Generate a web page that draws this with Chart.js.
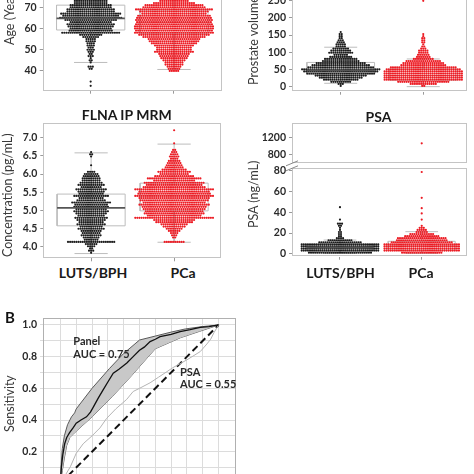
<!DOCTYPE html>
<html>
<head>
<meta charset="utf-8">
<title>FLNA panel figure</title>
<script src="https://cdn.jsdelivr.net/npm/chart.js@4.4.1/dist/chart.umd.min.js"></script>
<style>
  html, body { margin: 0; padding: 0; background: #fff; }
  body { position: relative; width: 474px; height: 474px; overflow: hidden; font-family: Lato, "Liberation Sans", sans-serif; }
  canvas { position: absolute; }
  .lbl { position: absolute; white-space: nowrap; line-height: 1; color: #1a1a1a; font-weight: bold; }
  .vlab { position: absolute; white-space: nowrap; line-height: 1; color: #3a3a3a; font-size: 12.5px;
          transform-origin: 0 0; transform: rotate(-90deg) translateY(-50%); }
</style>
</head>
<body>
<script>
// ---------------- data ----------------
const categories = ["LUTS/BPH", "PCa"];

// Age (years) - one swarm row per year
const ageBins = [33,34,35,36,37,38,39,40,41,42,43,44,45,46,47,48,49,50,51,52,53,54,55,56,57,58,59,60,61,62,63,64,65,66,67,68,69,70,71,72,73,74,75,76,77,78,79,80,81,82];
const ageLuts = [1,0,1,0,0,0,0,0,2,3, 0,1,2,1,3,2,3,4,3,4, 4,5,5,8,11,28,21,20,22,23, 20,25,30,27,29,23,23,20,20,16, 16,14,12,10,8,6,4,3,2,1];
const agePca  = [0,0,0,0,0,0,0, 5,6,7,9,9,11,13,14,15,19, 17,17,19,22,24,25,30,34,38,37, 38,38,37,36,37,36,35,31,33,37, 30,28,20,14,10,8,6,4,3,2, 1,0,0];
const ageTicks = [40, 50, 60, 70, 80, 90, 100];
const ageQ1 = [59.3, 57.7], ageMedian = [64.8, 63], ageQ3 = [71, 68.7], ageLow = [44, 40.7], ageHigh = [86, 84];

// Prostate volume (mL)
const volBins = [3,9,15,21,27,33,39,45,51,57,63,69,75,81,87,93,99,105,111,117,123,129,135,141,147,153,159,249];
const volLuts = [1,3,10,17,21,25,33,36,38,32,28,24,18,16,11,7,12,10,8,5,5,4,3,2,2,2,1,0];
const volPca  = [2,13,25,38,38,38,38,38,36,32,22,20,17,10,7,6,5,5,3,2,1,2,2,2,1,1,0,1];
const volTicks = [0, 50, 100, 150, 200, 250, 300, 350];
const volQ1 = [36, 20], volMedian = [48, 33], volQ3 = [71, 52], volLow = [10.7, 1], volHigh = [115, 81];

// FLNA IP MRM concentration (pg/mL)
const flnaBins = [3.84,3.90,3.96,4.02,4.08,4.14,4.20,4.26,4.32,4.38,4.44,4.50,4.56,4.62,4.68,4.74,4.80,4.86,4.92,4.98,5.04,5.10,5.16,5.22,5.28,5.34,5.40,5.46,5.52,5.58,5.64,5.70,5.76,5.82,5.88,5.94,6.00,6.06,6.12,6.18,6.24,6.30,6.36,6.42,6.48,6.54,6.60,6.66,6.72,6.78,6.84,6.90,6.96,7.02,7.08,7.14,7.20];
const flnaLuts = [1,3,2,4,6,23,7,8,10,9, 10,13,11,14,12,14,16,13,15,17, 15,17,16,19,14,12,17,12,13,15, 10,13,11,9,9,8,7,4,0,0, 1,0,0,0,1,2,1,0,0,0, 0,0,0,0,0,0,0];
const flnaPca  = [0,0,0,0,0,10,0,2,3,4, 6,8,11,13,18,20,38,26,29,28, 30,31,34,30,33,34,38,35,34,38, 30,27,29,20,26,19,14,16,12,9, 8,7,6,4,5,4,3,2,0,0, 1,0,0,0,0,0,1];
const flnaTicks = [4.0, 4.5, 5.0, 5.5, 6.0, 6.5, 7.0];
const flnaQ1 = [4.58, 4.99], flnaMedian = [5.07, 5.4], flnaQ3 = [5.45, 5.75], flnaLow = [3.82, 4.13], flnaHigh = [6.58, 6.82];

// PSA (ng/mL)
const psaBins = [1,3,5,7,9,11,13,15,17,19,21,23,25,27,29,33,39,44,45,54,79,1071];
const psaLuts = [31,38,38,38,38,21,12,4,2,2,2,1,1,2,3,1,0,0,1,0,0,0];
const psaPca  = [20,37,37,37,37,30,25,24,17,12,6,5,3,1,0,1,1,1,0,1,1,1];
const psaHighTicks = [800, 1200];
const psaLowTicks = [0, 20, 40, 60, 80];
const psaQ1 = [3.5, 3.5], psaMedian = [6, 7.5], psaQ3 = [9, 12], psaLow = [0.3, 0.3], psaHigh = [13.2, 21.3];

// ROC (1 - specificity vs sensitivity)
const rocPanelFpr = [0,0.006,0.015,0.027,0.04,0.058,0.08,0.1,0.13,0.165,0.19,0.207,0.24,0.27,0.3,0.334,0.37,0.42,0.46,0.5,0.53,0.567,0.6,0.63,0.7,0.757,0.82,0.884,0.94,1];
const rocPanelTpr = [0,0.1,0.18,0.25,0.29,0.32,0.35,0.38,0.4,0.42,0.45,0.48,0.54,0.59,0.64,0.695,0.72,0.76,0.8,0.84,0.86,0.895,0.91,0.926,0.94,0.958,0.97,0.985,0.99,1];
const rocUpperFpr = [0,0.005,0.012,0.025,0.045,0.07,0.09,0.1,0.2,0.31,0.4,0.5,0.6,0.7,0.79,0.9,1];
const rocUpperTpr = [0,0.12,0.22,0.3,0.37,0.42,0.445,0.47,0.6,0.725,0.82,0.905,0.93,0.955,0.975,0.99,1];
const rocLowerFpr = [0,0.012,0.025,0.04,0.06,0.09,0.2,0.33,0.45,0.52,0.6,0.76,0.88,1];
const rocLowerTpr = [0,0.08,0.16,0.24,0.29,0.32,0.42,0.55,0.68,0.76,0.85,0.92,0.96,1];
const rocPsaFpr = [0,0.03,0.063,0.1,0.144,0.2,0.25,0.292,0.35,0.419,0.46,0.5,0.567,0.62,0.673,0.71,0.8,0.884,0.926,0.95,0.97,1];
const rocPsaTpr = [0,0.05,0.105,0.19,0.25,0.3,0.35,0.41,0.47,0.53,0.58,0.6,0.635,0.67,0.705,0.73,0.78,0.832,0.88,0.91,0.95,1];
const rocChanceFpr = [0, 1];
const rocChanceTpr = [0, 1];
const rocGridTicks = [0,0.1,0.2,0.3,0.4,0.5,0.6,0.7,0.8,0.9,1.0];
const rocLabelTicks = [0.2, 0.4, 0.6, 0.8, 1.0];

// ---------------- style ----------------
const FONT = "Lato, 'Liberation Sans', sans-serif";
const BLACK = "#1c1c1c", RED = "#ec1c24";
const BOX_COLOR = "#bdbdbd", MED_COLOR = "#555555";
const DOT_DX = 0.0253, DOT_R = 1.1;
const BOX_HALF = 0.41, CAP_HALF = 0.2;

Chart.defaults.font.family = FONT;
Chart.defaults.animation = false;
Chart.defaults.events = [];
Chart.defaults.plugins.legend.display = false;
Chart.defaults.plugins.tooltip.enabled = false;

// frame round the plot area + axis break marks
const framePlugin = {
    id: "frame",
    beforeDatasetsDraw(chart, args, opts) {
        const a = chart.chartArea, ctx = chart.ctx;
        ctx.save();
        ctx.strokeStyle = opts.color || "#bfbfbf";
        ctx.lineWidth = 1;
        ctx.strokeRect(Math.round(a.left) + 0.5, Math.round(a.top) + 0.5,
            Math.round(a.right - a.left) - 1, Math.round(a.bottom - a.top) - 1);
        ctx.restore();
    },
    afterDraw(chart, args, opts) {
        if (!opts.breakAt) return;
        const a = chart.chartArea, ctx = chart.ctx;
        const y = opts.breakAt === "bottom" ? a.bottom : a.top;
        ctx.save();
        ctx.strokeStyle = "#8a8a8a";
        ctx.lineWidth = 1;
        ctx.beginPath();
        ctx.moveTo(a.left - 6, y + 2.5);
        ctx.lineTo(a.left + 6, y - 2.5);
        ctx.stroke();
        ctx.restore();
    }
};
Chart.register(framePlugin);

function makeCanvas(box) {
    const c = document.createElement("canvas");
    c.width = box.w;
    c.height = box.h;
    c.style.left = box.x + "px";
    c.style.top = box.y + "px";
    c.style.width = box.w + "px";
    c.style.height = box.h + "px";
    document.body.appendChild(c);
    return c;
}

function swarmPoints(bins, counts, center) {
    const pts = [];
    bins.forEach((v, i) => {
        const n = counts[i];
        for (let j = 0; j < n; j++) {
            pts.push({ x: center + (j - (n - 1) / 2) * DOT_DX, y: v });
        }
    });
    return pts;
}

function seg(points, color, width, order) {
    return {
        data: points.map(p => ({ x: p[0], y: p[1] })),
        showLine: true, pointRadius: 0, borderColor: color, borderWidth: width,
        fill: false, order: order
    };
}

function boxSets(q1, med, q3, lo, hi) {
    const sets = [];
    [1, 2].forEach((c, g) => {
        const w = BOX_HALF, k = CAP_HALF;
        sets.push(seg([[c - w, q1[g]], [c + w, q1[g]], [c + w, q3[g]], [c - w, q3[g]], [c - w, q1[g]]], BOX_COLOR, 1, 3));
        sets.push(seg([[c, q3[g]], [c, hi[g]]], BOX_COLOR, 1, 3));
        sets.push(seg([[c, q1[g]], [c, lo[g]]], BOX_COLOR, 1, 3));
        sets.push(seg([[c - k, hi[g]], [c + k, hi[g]]], BOX_COLOR, 1, 3));
        sets.push(seg([[c - k, lo[g]], [c + k, lo[g]]], BOX_COLOR, 1, 3));
        // LUTS median sits on top of its swarm, PCa median is hidden under it
        sets.push(seg([[c - w, med[g]], [c + w, med[g]]], g === 0 ? MED_COLOR : BOX_COLOR, g === 0 ? 1.8 : 1, g === 0 ? 0 : 3));
    });
    return sets;
}

function tickFont() {
    return { family: FONT, weight: "bold", size: 10.5 };
}

function scaleSet(box, plot, xr, yr) {
    return {
        x: {
            type: "linear", min: xr.min, max: xr.max,
            afterBuildTicks: s => { s.ticks = xr.ticks.map(v => ({ value: v })); },
            afterFit: s => { s.height = box.y + box.h - plot.b; s.paddingLeft = 0; s.paddingRight = 0; },
            ticks: { display: false, autoSkip: false },
            grid: xr.grid,
            border: { display: false }
        },
        y: {
            type: "linear", min: yr.min, max: yr.max,
            afterBuildTicks: s => { s.ticks = yr.ticks.map(v => ({ value: v })); },
            afterFit: s => { s.width = plot.l - box.x; s.paddingTop = 0; s.paddingBottom = 0; },
            ticks: { font: tickFont(), color: "#2a2a2a", padding: 3, autoSkip: false, callback: yr.fmt },
            grid: yr.grid,
            border: { display: false }
        }
    };
}

function swarmChart(o) {
    const canvas = makeCanvas(o.box);
    const datasets = [
        { data: swarmPoints(o.bins, o.luts, 1), pointRadius: DOT_R, pointBorderWidth: 0, pointBackgroundColor: BLACK, order: 1 },
        { data: swarmPoints(o.bins, o.pca, 2), pointRadius: DOT_R, pointBorderWidth: 0, pointBackgroundColor: RED, order: 1 }
    ].concat(o.box2 ? boxSets(o.q1, o.med, o.q3, o.lo, o.hi) : []);
    const tickGrid = { drawOnChartArea: false, tickLength: 3, color: "#9a9a9a", drawTicks: true };
    return new Chart(canvas, {
        type: "scatter",
        data: { datasets: datasets },
        options: {
            responsive: false,
            devicePixelRatio: 1,
            layout: { autoPadding: false, padding: { left: 0, bottom: 0, top: o.plot.t - o.box.y, right: o.box.x + o.box.w - o.plot.r } },
            scales: scaleSet(o.box, o.plot,
                { min: o.xMin, max: o.xMax, ticks: o.xTicks ? [1, 2] : [], grid: tickGrid },
                { min: o.yMin, max: o.yMax, ticks: o.yTicks, fmt: o.fmt, grid: tickGrid }),
            plugins: { frame: { color: "#c4c4c4", breakAt: o.breakAt } }
        }
    });
}

const intFmt = v => String(v);

// Age
swarmChart({
    box: { x: 0, y: -80, w: 230, h: 175 }, plot: { l: 42.7, r: 221.7, t: -70, b: 90.7 },
    xMin: 0.424, xMax: 2.573, xTicks: true, yMin: 30.7, yMax: 106.4, yTicks: ageTicks, fmt: intFmt,
    bins: ageBins, luts: ageLuts, pca: agePca, box2: true,
    q1: ageQ1, med: ageMedian, q3: ageQ3, lo: ageLow, hi: ageHigh
});

// Prostate volume
swarmChart({
    box: { x: 245, y: -60, w: 229, h: 155 }, plot: { l: 292, r: 467, t: -45.7, b: 91.7 },
    xMin: 0.41, xMax: 2.53, xTicks: true, yMin: -13.6, yMax: 383.5, yTicks: volTicks, fmt: intFmt,
    bins: volBins, luts: volLuts, pca: volPca, box2: true,
    q1: volQ1, med: volMedian, q3: volQ3, lo: volLow, hi: volHigh
});

// FLNA IP MRM
swarmChart({
    box: { x: 0, y: 118, w: 230, h: 145 }, plot: { l: 43.3, r: 221.7, t: 123.3, b: 258.3 },
    xMin: 0.424, xMax: 2.573, xTicks: true, yMin: 3.69, yMax: 7.39, yTicks: flnaTicks, fmt: v => v.toFixed(1),
    bins: flnaBins, luts: flnaLuts, pca: flnaPca, box2: true,
    q1: flnaQ1, med: flnaMedian, q3: flnaQ3, lo: flnaLow, hi: flnaHigh
});

// PSA - upper (broken) part
swarmChart({
    box: { x: 245, y: 118, w: 229, h: 50 }, plot: { l: 292, r: 467, t: 123.3, b: 163.3 },
    xMin: 0.413, xMax: 2.554, xTicks: false, yMin: 608, yMax: 1533, yTicks: psaHighTicks, fmt: intFmt,
    bins: psaBins, luts: psaLuts, pca: psaPca, box2: false, breakAt: "bottom"
});

// PSA - lower part
swarmChart({
    box: { x: 245, y: 163, w: 229, h: 100 }, plot: { l: 292, r: 467, t: 168.3, b: 256.7 },
    xMin: 0.413, xMax: 2.554, xTicks: true, yMin: -2.9, yMax: 82.6, yTicks: psaLowTicks, fmt: intFmt,
    bins: psaBins, luts: psaLuts, pca: psaPca, box2: true,
    q1: psaQ1, med: psaMedian, q3: psaQ3, lo: psaLow, hi: psaHigh, breakAt: "top"
});

// ROC
(function () {
    const box = { x: 0, y: 310, w: 245, h: 200 }, plot = { l: 43, r: 236, t: 318, b: 500 };
    const pts = (xs, ys) => xs.map((x, i) => ({ x: x, y: ys[i] }));
    const base = { pointRadius: 0, tension: 0, fill: false };
    const canvas = makeCanvas(box);
    new Chart(canvas, {
        type: "line",
        data: {
            datasets: [
                Object.assign({}, base, { data: pts(rocUpperFpr, rocUpperTpr), borderColor: "#5a5a5a", borderWidth: 1, fill: "+1", backgroundColor: "#c8c8c8", order: 3 }),
                Object.assign({}, base, { data: pts(rocLowerFpr, rocLowerTpr), borderColor: "#5a5a5a", borderWidth: 1, order: 3 }),
                Object.assign({}, base, { data: pts(rocChanceFpr, rocChanceTpr), borderColor: "#111", borderWidth: 2, borderDash: [7, 4], order: 2 }),
                Object.assign({}, base, { data: pts(rocPsaFpr, rocPsaTpr), borderColor: "#b4b4b4", borderWidth: 1, order: 1 }),
                Object.assign({}, base, { data: pts(rocPanelFpr, rocPanelTpr), borderColor: "#111", borderWidth: 1.3, order: 0 })
            ]
        },
        options: {
            responsive: false,
            devicePixelRatio: 1,
            layout: { autoPadding: false, padding: { left: 0, bottom: 0, top: plot.t - box.y, right: box.x + box.w - plot.r } },
            scales: scaleSet(box, plot,
                { min: -0.11, max: 1.11, ticks: rocGridTicks, grid: { color: "#dcdcdc", drawTicks: false } },
                { min: -0.105, max: 1.044, ticks: rocGridTicks,
                  fmt: v => rocLabelTicks.some(t => Math.abs(t - v) < 1e-6) ? v.toFixed(1) : "",
                  grid: { color: "#dcdcdc", tickLength: 3 } }),
            plugins: { frame: { color: "#b0b0b0" } }
        }
    });
})();

// ---------------- text ----------------
function text(str, x, capTop, size, center, color) {
    const d = document.createElement("div");
    d.className = "lbl";
    d.textContent = str;
    d.style.fontSize = size + "px";
    d.style.left = x + "px";
    d.style.top = (capTop - 0.17 * size) + "px";
    if (center) d.style.transform = "translateX(-50%)";
    if (color) d.style.color = color;
    document.body.appendChild(d);
}
function vtext(str, x, bottom) {
    const d = document.createElement("div");
    d.className = "vlab";
    d.textContent = str;
    d.style.left = x + "px";
    d.style.top = bottom + "px";
    document.body.appendChild(d);
}

text("FLNA IP MRM", 126.7, 110, 14, true);
text("PSA", 378.5, 112, 14, true);
text(categories[0], 93, 268.3, 14, true);
text(categories[1], 183, 268.3, 14, true);
text(categories[0], 340.5, 268.3, 14, true);
text(categories[1], 421, 268.3, 14, true);
text("B", 5, 313, 15, false, "#111");
text("Panel", 73.3, 336.7, 11, false, "#2a2a2a");
text("AUC = 0.75", 73.3, 350, 11, false, "#2a2a2a");
text("PSA", 180, 368, 11, false, "#2a2a2a");
text("AUC = 0.55", 180, 380, 11, false, "#2a2a2a");

vtext("Age (Years)", 10, 45);
vtext("Prostate volume (mL)", 253.7, 85);
vtext("Concentration (pg/mL)", 8.3, 256.7);
vtext("PSA (ng/mL)", 253.7, 228.3);
vtext("Sensitivity", 10, 431.7);
</script>
</body>
</html>
